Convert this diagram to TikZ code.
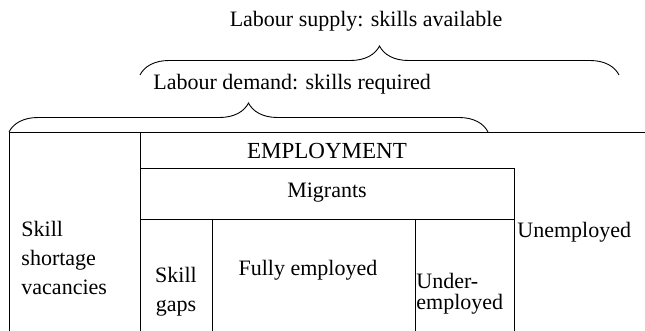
\documentclass[tikz,border=0pt]{standalone}
\usepackage{fontspec}
\setmainfont{Liberation Serif}
\usetikzlibrary{decorations.pathreplacing,positioning}

\begin{document}
\begin{tikzpicture}[
x=1pt,
y=-1pt,
txt/.style={
  inner sep=0pt,
  font=\fontsize{22}{29}\selectfont
  },
stack/.style={
  txt,
  align=left
  },
bracket/.style={
  decorate,
  decoration={brace,amplitude=29pt}
  },
line width=0.9pt
]
\useasboundingbox (0,0) rectangle (645,331);
% frame of the table
\coordinate (topleft) at (9,132);
\coordinate (topright) at (645,132);
\coordinate (empleft) at (140,168);
\coordinate (empright) at (514,168);
\coordinate (migleft) at (140,219);
\coordinate (migright) at (514,219);
\draw (9,331) -- (topleft) -- (topright);
\draw (140,331) -- (140,132);
\draw (empleft) -- (empright) -- (514,331);
\draw (migleft) -- (migright);
\draw (212,219) -- (212,331);
\draw (415,219) -- (415,331);
% braces
\coordinate (demandleft) at (9,132);
\coordinate (demandright) at (488,132);
\coordinate (supplyleft) at (140,75);
\coordinate (supplyright) at (619,75);
\draw[bracket] (demandleft) -- (demandright);
\draw[bracket] (supplyleft) -- (supplyright);
% texts
\node[txt] (supply) at (366,21) {Labour supply: skills available};
\node[txt, anchor=west] (demand) at (153,84) {Labour demand: skills required};
\node[txt, font=\fontsize{23}{29}\selectfont] (employment) at (327,151) {EMPLOYMENT};
\node[txt] (migrants) at (327,193) {Migrants};
\node[stack, anchor=west] (shortage) at (21,258) {Skill\\shortage\\vacancies};
\node[stack, align=center] (gaps) at (176,292) {Skill\\gaps};
\node[txt] (fully) at (308,270) {Fully employed};
\node[stack, anchor=west, font=\fontsize{22}{21}\selectfont] (under) at (416,294) {Under-\\employed};
\node[txt, anchor=west] (unemployed) at (517,232) {Unemployed};
\end{tikzpicture}
\end{document}
